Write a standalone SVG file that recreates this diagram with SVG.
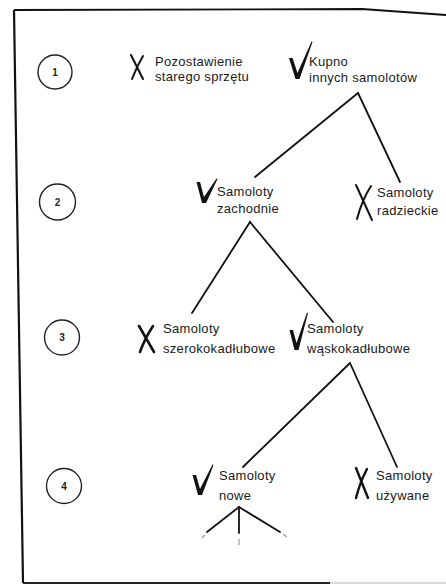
<svg xmlns="http://www.w3.org/2000/svg" width="446" height="584" viewBox="0 0 446 584">
<style>
.lbl{font-family:"Liberation Sans",Arial,sans-serif;font-size:13px;letter-spacing:0.3px;fill:#1a1a1a}
.num{font-family:"Liberation Sans",Arial,sans-serif;font-size:10px;font-weight:bold;fill:#222;text-anchor:middle}
.circ{fill:none;stroke:#222;stroke-width:1.4}
.edge{stroke:#111;stroke-width:1.8;fill:none;stroke-linecap:round}
.mark{stroke:#111;fill:none;stroke-linecap:round}
.check{fill:#111;stroke:none}
.faint{stroke:#999;stroke-width:1.2;fill:none}
</style>
<rect width="446" height="584" fill="#fff"/>
<g id="frame">
<path d="M14,10 L23,583" stroke="#111" stroke-width="2.2" fill="none"/>
<path d="M14,10 L362,9 L446,15" stroke="#111" stroke-width="1.8" fill="none"/>
<path d="M23,583 L330,583" stroke="#222" stroke-width="2" fill="none"/>
<path d="M330,583 L446,583" stroke="#ccc" stroke-width="1.5" fill="none"/>
</g>
<g id="levels">
<g id="level1"><circle class="circ" cx="55" cy="72" r="17"/><text class="num" x="55" y="75.5">1</text></g>
<g id="level2"><circle class="circ" cx="57.5" cy="202" r="18"/><text class="num" x="57.5" y="205.5">2</text></g>
<g id="level3"><circle class="circ" cx="62" cy="337.5" r="17.5"/><text class="num" x="62" y="341">3</text></g>
<g id="level4"><circle class="circ" cx="64" cy="486" r="17.5"/><text class="num" x="64" y="489.5">4</text></g>
</g>
<g id="connectors">
<line class="edge" x1="358" y1="93" x2="255" y2="177"/>
<line class="edge" x1="358" y1="93" x2="400" y2="182"/>
<line class="edge" x1="250" y1="222" x2="192" y2="313"/>
<line class="edge" x1="250" y1="222" x2="333" y2="322"/>
<line class="edge" x1="350" y1="363" x2="243" y2="467"/>
<line class="edge" x1="350" y1="363" x2="397" y2="467"/>
<line class="edge" x1="239" y1="507" x2="207" y2="532"/>
<line class="edge" x1="239" y1="507" x2="280" y2="532"/>
<line class="edge" x1="239" y1="507" x2="239" y2="533" stroke-width="1.2"/>
<line class="faint" x1="202" y1="538" x2="205" y2="535"/>
<line class="faint" x1="239" y1="539" x2="239" y2="545"/>
<line class="faint" x1="283" y1="534" x2="287" y2="537"/>
</g>
<g id="n1a">
<path class="mark" d="M131,55 L143,79 M143,56 Q137,66 132,79" stroke-width="2"/>
<text class="lbl" x="155" y="66">Pozostawienie</text>
<text class="lbl" x="155" y="81">starego sprzętu</text>
</g>
<g id="n1b">
<path class="check" d="M289,58 L292.5,58 L297.5,73 L311.5,41.5 L312.5,42 L299.5,79 L295.5,79 Z"/>
<text class="lbl" x="309" y="66">Kupno</text>
<text class="lbl" x="309" y="82">innych samolotów</text>
</g>
<g id="n2a">
<path class="check" d="M196.5,182 L200,182 L204,197 L216.5,178.5 L217.5,179 L206,203 L202,203 Z"/>
<text class="lbl" x="217" y="196">Samoloty</text>
<text class="lbl" x="217" y="213">zachodnie</text>
</g>
<g id="n2b">
<path class="mark" d="M356,185 L372,220 M371,186 Q362,200 357,219" stroke-width="2"/>
<text class="lbl" x="377" y="197">Samoloty</text>
<text class="lbl" x="377" y="215">radzieckie</text>
</g>
<g id="n3a">
<path class="mark" d="M139,326 L154,352 M153,326 Q145,338 140,352" stroke-width="2.6"/>
<text class="lbl" x="163" y="333">Samoloty</text>
<text class="lbl" x="163" y="353">szerokokadłubowe</text>
</g>
<g id="n3b">
<path class="check" d="M289.5,330 L293,330 L296.5,343 L307,312.5 L308,313 L298.5,350 L294.5,350 Z"/>
<text class="lbl" x="307" y="333">Samoloty</text>
<text class="lbl" x="307" y="353">wąskokadłubowe</text>
</g>
<g id="n4a">
<path class="check" d="M192.5,475 L196,475 L200,489 L212.5,464.5 L213.5,465 L202,495 L198,495 Z"/>
<text class="lbl" x="219" y="480">Samoloty</text>
<text class="lbl" x="219" y="500">nowe</text>
</g>
<g id="n4b">
<path class="mark" d="M356,468 L368,498 M367,469 Q360,482 356,498" stroke-width="2.4"/>
<text class="lbl" x="376" y="480">Samoloty</text>
<text class="lbl" x="376" y="500">używane</text>
</g>
</svg>
